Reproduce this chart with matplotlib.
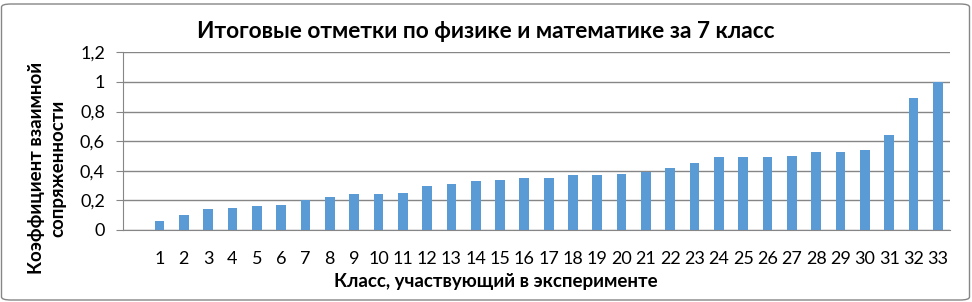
import matplotlib
matplotlib.use("Agg")
import matplotlib.pyplot as plt
from matplotlib.patches import FancyBboxPatch

categories = [str(i) for i in range(1, 34)]
values = [0.06, 0.10, 0.14, 0.15, 0.16, 0.17, 0.20, 0.22, 0.24, 0.24,
          0.25, 0.30, 0.31, 0.33, 0.34, 0.35, 0.35, 0.37, 0.37, 0.38,
          0.39, 0.42, 0.45, 0.49, 0.49, 0.49, 0.50, 0.53, 0.53, 0.54,
          0.64, 0.89, 1.00]
yticks = [0, 0.2, 0.4, 0.6, 0.8, 1.0, 1.2]
ytick_labels = ["0", "0,2", "0,4", "0,6", "0,8", "1", "1,2"]

title = "Итоговые отметки по физике и математике за 7 класс"
xlabel = "Класс, участвующий в эксперименте"
ylabel = "Коэффициент взаимной\nсопряженности"

font = ["Lato", "DejaVu Sans"]
plt.rcParams["font.family"] = font

fig = plt.figure(figsize=(9.72, 3.02), dpi=100)
W, H = 972, 302
ax = fig.add_axes([123 / W, 1 - 230 / H, (950 - 123) / W, (230 - 52.3) / H])

positions = list(range(1, len(categories) + 1))
ax.bar(positions, values, width=0.4, color="#5B9BD5", zorder=3)
ax.set_xlim(-0.5, len(categories) + 0.5)
ax.set_ylim(0, 1.2)
ax.set_yticks(yticks)
ax.set_yticklabels(ytick_labels)
ax.set_xticks(positions)
ax.set_xticklabels(categories)

ax.grid(axis="y", color="#868686", linewidth=1.0, zorder=1)
for s in ["top", "right"]:
    ax.spines[s].set_visible(False)
ax.spines["left"].set_color("#868686")
ax.spines["bottom"].set_color("#868686")
ax.spines["bottom"].set_zorder(4)
ax.tick_params(axis="y", length=5, color="#868686", labelsize=13, pad=8, labelcolor="#000000")
ax.tick_params(axis="x", length=0, labelsize=13, pad=15)

fig.text(486 / W, 1 - 31 / H, title, ha="center", va="center",
         fontsize=16.3, fontweight="bold")
fig.text(496 / W, 1 - 282 / H, xlabel, ha="center", va="center",
         fontsize=13.5, fontweight="bold")
fig.text(47 / W, 1 - 168 / H, ylabel, ha="center", va="center",
         fontsize=13.5, fontweight="bold", rotation=90, linespacing=1.3)

border = FancyBboxPatch((1.5 / W, 2 / H), (W - 4) / W, (H - 6) / H,
                        boxstyle="round,pad=0,rounding_size=0.01",
                        transform=fig.transFigure, fill=False,
                        edgecolor="#868686", linewidth=1.0)
fig.patches.append(border)

fig.savefig("out.png", dpi=100)
